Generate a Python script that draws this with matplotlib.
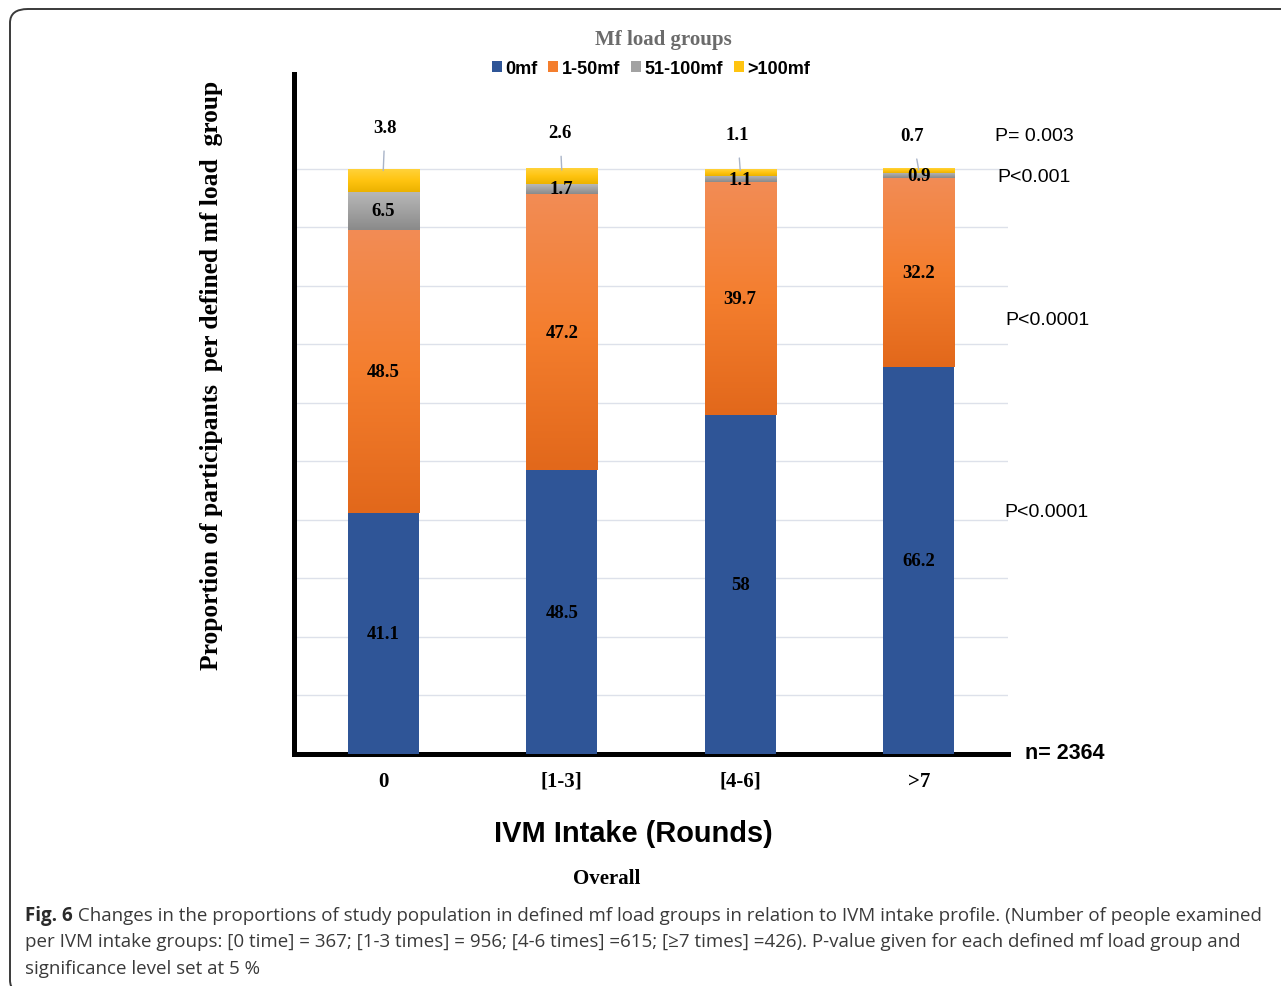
"""Stacked proportions of mf load groups by IVM intake rounds."""

import numpy as np
import matplotlib
import matplotlib.pyplot as plt
from matplotlib.colors import LinearSegmentedColormap
from matplotlib.patches import FancyBboxPatch, Patch

matplotlib.use("Agg")

# data
categories = ["0", "[1-3]", "[4-6]", ">7"]
mf_0 = [41.1, 48.5, 58.0, 66.2]
mf_1_50 = [48.5, 47.2, 39.7, 32.2]
mf_51_100 = [6.5, 1.7, 1.1, 0.9]
mf_over_100 = [3.8, 2.6, 1.1, 0.7]
group_names = ["0mf", "1-50mf", "51-100mf", ">100mf"]
p_labels = ["P= 0.003", "P<0.001", "P<0.0001", "P<0.0001"]
n_total = 2364

W, H, DPI = 1281, 987, 100
SERIF = ["Liberation Serif", "DejaVu Serif"]
SANS = ["Liberation Sans", "DejaVu Sans"]

BLUE = "#2F5597"
ORANGE = ["#F28C55", "#F47E2E", "#E2681B"]
GRAY = ["#B8B8B8", "#A2A2A2", "#8A8A8A"]
YELLOW = ["#FFD23A", "#FFC410", "#ECB200"]
GRID = "#DDE1EA"


def px(x, y):
    """Image pixel coords -> figure fraction."""
    return x / W, 1 - y / H


def gradient_bar(ax, x, bottom, height, colors, width):
    cmap = LinearSegmentedColormap.from_list("g", colors)
    grad = np.linspace(0, 1, 128).reshape(-1, 1)
    ax.imshow(grad, cmap=cmap, aspect="auto", origin="upper", zorder=3,
              extent=(x - width / 2, x + width / 2, bottom, bottom + height))


fig = plt.figure(figsize=(W / DPI, H / DPI), dpi=DPI)

# rounded frame around the panel; it runs off the right and bottom edges
frame = FancyBboxPatch((10 / W, -8 / H), 1320 / W, (H - 2) / H,
                       boxstyle="round,pad=0,rounding_size=0.014",
                       transform=fig.transFigure, fill=False,
                       edgecolor="#3a3a3a", linewidth=1.4)
fig.patches.append(frame)

x0, x1, ytop, ybot = 294, 1008, 75, 755
ax = fig.add_axes([x0 / W, 1 - ybot / H, (x1 - x0) / W, (ybot - ytop) / H])

x = np.arange(len(categories))
bw = 0.40
bottom_1 = np.array(mf_0)
bottom_2 = bottom_1 + np.array(mf_1_50)
bottom_3 = bottom_2 + np.array(mf_51_100)
totals = bottom_3 + np.array(mf_over_100)

ax.bar(x, mf_0, width=bw, color=BLUE, zorder=3)
for i in range(len(categories)):
    gradient_bar(ax, x[i], bottom_1[i], mf_1_50[i], ORANGE, bw)
    gradient_bar(ax, x[i], bottom_2[i], mf_51_100[i], GRAY, bw)
    gradient_bar(ax, x[i], bottom_3[i], mf_over_100[i], YELLOW, bw)

ax.set_xlim(-0.5, 3.5)
ax.set_ylim(0, 116.2)
ax.set_yticks(np.arange(0, 101, 10))
ax.set_yticklabels([])
ax.yaxis.grid(True, color=GRID, linewidth=1.0, zorder=0)
ax.set_axisbelow(True)
ax.tick_params(length=0)
ax.set_xticks(x)
ax.set_xticklabels(categories, fontfamily=SERIF, fontweight="bold", fontsize=15)
ax.tick_params(axis="x", pad=12)
for side in ["top", "right"]:
    ax.spines[side].set_visible(False)
for side in ["left", "bottom"]:
    ax.spines[side].set_linewidth(3.6)
    ax.spines[side].set_color("black")

lab = dict(ha="center", va="center", fontfamily=SERIF, fontweight="bold",
           fontsize=13.5, color="black", zorder=5)
for i in range(len(categories)):
    ax.text(x[i], mf_0[i] / 2, f"{mf_0[i]:g}", **lab)
    ax.text(x[i], bottom_1[i] + mf_1_50[i] / 2, f"{mf_1_50[i]:g}", **lab)
    ax.text(x[i], bottom_2[i] + mf_51_100[i] / 2, f"{mf_51_100[i]:g}", **lab)

# labels of the thin top segment sit above the bars with a leader line
top_dx = [0.01, -0.01, -0.015, -0.035]
top_y = [107.1, 106.2, 105.9, 105.7]
for i in range(len(categories)):
    ax.annotate(f"{mf_over_100[i]:g}", xy=(x[i], totals[i] - 0.2),
                xytext=(x[i] + top_dx[i], top_y[i]),
                ha="center", va="center", fontfamily=SERIF, fontweight="bold",
                fontsize=13.5, zorder=5,
                arrowprops=dict(arrowstyle="-", color="#A9B4C8", lw=1.0,
                                shrinkA=9, shrinkB=0))

# p-values for each mf load group, right of the bars
p_pos = [(3.427, 105.7), (3.438, 98.6), (3.483, 74.2), (3.478, 41.4)]
for (px_, py_), txt in zip(p_pos, p_labels):
    ax.text(px_, py_, txt, ha="left", va="center", fontfamily=SANS,
            fontsize=14, clip_on=False)
ax.text(3.595, 0.3, f"n= {n_total}", ha="left", va="center", fontfamily=SANS,
        fontweight="bold", fontsize=15.5, clip_on=False)

# y label and x titles
fig.text(*px(212, 375), "Proportion of participants  per defined mf load  group",
         rotation=90, ha="center", va="center", fontfamily=SERIF,
         fontweight="bold", fontsize=18.4)
fig.text(*px(633, 834), "IVM Intake (Rounds)", ha="center", va="center",
         fontfamily=SANS, fontweight="bold", fontsize=20.9)
fig.text(*px(607, 879), "Overall", ha="center", va="center",
         fontfamily=SERIF, fontweight="bold", fontsize=15)

# legend
fig.text(*px(663, 40), "Mf load groups", ha="center", va="center",
         fontfamily=SERIF, fontweight="bold", fontsize=15, color="#6b6b6b")
handles = [Patch(facecolor=c) for c in [BLUE, ORANGE[1], GRAY[1], YELLOW[1]]]
fig.legend(handles, group_names, loc="center", bbox_to_anchor=px(651, 69),
           ncol=4, frameon=False, handlelength=0.55, handleheight=0.55,
           handletextpad=0.2, columnspacing=0.6, borderpad=0,
           prop=dict(family=SANS, weight="bold", size=13))

# caption
cap_lines = [
    " Changes in the proportions of study population in defined mf load groups "
    "in relation to IVM intake profile. (Number of people examined",
    "per IVM intake groups: [0 time] = 367; [1-3 times] = 956; [4-6 times] =615; "
    "[\u22657 times] =426). P-value given for each defined mf load group and",
    "significance level set at 5 %",
]
cap_font = ["Open Sans", "DejaVu Sans"]
cap_size = 13
fig_lbl = fig.text(*px(25, 916), "Fig. 6", ha="left", va="center",
                   fontfamily=cap_font, fontweight="bold", fontsize=cap_size,
                   color="#2a2a2a")
first = fig.text(*px(25, 916), cap_lines[0], ha="left", va="center",
                 fontfamily=cap_font, fontsize=cap_size, color="#3a3a3a")
renderer = fig.canvas.get_renderer()
# fit the caption so the first line spans the same width as the original
for _ in range(3):
    fig.canvas.draw()
    first.set_x(fig_lbl.get_window_extent(renderer).x1 / W)
    fig.canvas.draw()
    span = first.get_window_extent(renderer).x1 - 25
    cap_size *= (1262 - 25) / span
    fig_lbl.set_fontsize(cap_size)
    first.set_fontsize(cap_size)
fig.canvas.draw()
first.set_x(fig_lbl.get_window_extent(renderer).x1 / W)
for yy, line in zip([942, 969], cap_lines[1:]):
    fig.text(*px(25, yy), line, ha="left", va="center", fontfamily=cap_font,
             fontsize=cap_size, color="#3a3a3a")

fig.savefig("out.png", dpi=DPI, facecolor="white")
plt.close(fig)
